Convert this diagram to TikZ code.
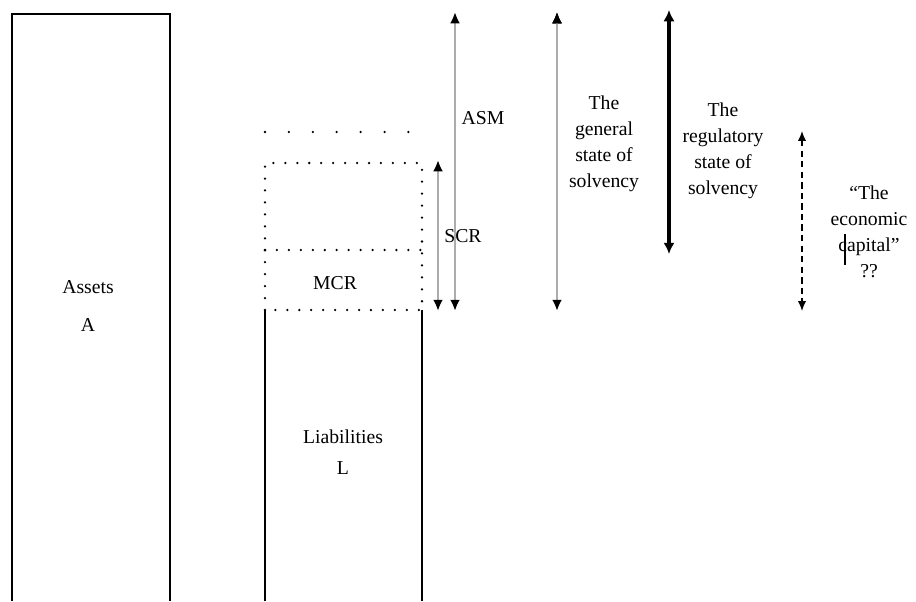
\documentclass[tikz,border=0pt]{standalone}
\usepackage{fontspec}
\setmainfont{Liberation Serif}
\tikzstyle{box}=[draw, line width=1pt]
\tikzstyle{dots}=[line width=1.8pt, line cap=round, dash pattern=on 0pt off 8.5pt]
\tikzstyle{sparse}=[line width=1.8pt, line cap=round, dash pattern=on 0pt off 17pt]
\tikzstyle{span}=[draw=gray!65, line width=1.8pt, {Latex[black,length=8pt,width=7pt]}-{Latex[black,length=8pt,width=7pt]}]
\tikzstyle{bold}=[draw=black, line width=2.8pt, {Latex[length=8pt,width=8pt]}-{Latex[length=8pt,width=8pt]}]
\tikzstyle{guess}=[draw=black, line width=1.1pt, dash pattern=on 4.5pt off 3pt, {Latex[length=7pt,width=6pt]}-{Latex[length=7pt,width=6pt]}]
\tikzstyle{lbl}=[font=\fontsize{14}{18.5}\selectfont, align=center, inner sep=0pt]
\usetikzlibrary{arrows.meta,positioning}

\begin{document}
\begin{tikzpicture}[x=0.025cm,y=-0.025cm]
    \useasboundingbox (0,0) rectangle (916,601);
    % assets and liabilities
    \draw[box] (12,601) -- (12,14) -- (170,14) -- (170,601);
    \draw[box] (265,601) -- (265,310);
    \draw[box] (422,601) -- (422,310);
    \node (assets) [lbl] at (88,287) {Assets};
    \node (A) [lbl,below=27pt of assets.base,anchor=base] {A};
    \node (liab) [lbl] at (343,437) {Liabilities};
    \node (L) [lbl,below=22pt of liab.base,anchor=base] {L};
    % dotted levels
    \draw[dots] (265,310) rectangle (422,163);
    \draw[dots] (265,250) -- (422,250);
    \draw[sparse] (265,132) -- (412,132);
    \node (mcr) [lbl] at (335,283) {MCR};
    % arrow ends
    \coordinate (scrtop) at (438,160);
    \coordinate (scrbot) at (438,311);
    \coordinate (asmtop) at (455,12);
    \coordinate (asmbot) at (455,311);
    \coordinate (gentop) at (557,12);
    \coordinate (genbot) at (557,311);
    \coordinate (regtop) at (669,10);
    \coordinate (regbot) at (669,254);
    \coordinate (ectop) at (802,131);
    \coordinate (ecbot) at (802,311);
    \path[span]
        (scrtop) edge (scrbot)
        (asmtop) edge (asmbot)
        (gentop) edge (genbot);
    \draw[bold] (regtop) -- (regbot);
    \draw[guess] (ectop) -- (ecbot);
    % labels
    \node (scr) [lbl] at (463,236) {SCR};
    \node (asm) [lbl] at (483,118) {ASM};
    \node (gen) [lbl] at (604,144) {The\\general\\state of\\solvency};
    \node (reg) [lbl] at (723,151) {The\\regulatory\\state of\\solvency};
    \node (ec) [lbl] at (869,232) {``The\\economic\\capital''\\??};
    \draw[line width=1pt] (845,234) -- (845,265);
\end{tikzpicture}
\end{document}
